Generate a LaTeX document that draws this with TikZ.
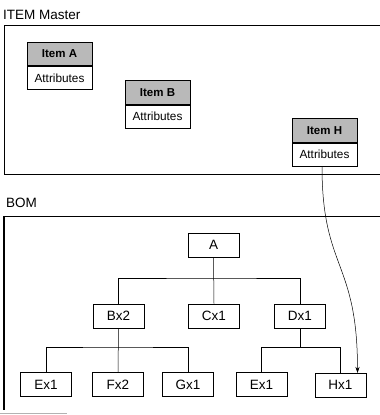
\documentclass[tikz,border=0pt]{standalone}
\usepackage{fontspec}
\setmainfont{Liberation Sans}
\usetikzlibrary{arrows.meta}
\tikzset{
  bomnode/.style={draw, line width=0.6pt, minimum width=51pt, minimum height=24pt, inner sep=0pt, font=\fontsize{13.5}{15}\selectfont},
  itemhead/.style={draw, line width=0.7pt, fill=gray!55, minimum width=65pt, minimum height=23.5pt, inner sep=0pt, font=\fontsize{11.5}{13}\selectfont\bfseries},
  itemattr/.style={draw, line width=0.7pt, fill=white, minimum width=65pt, minimum height=23pt, inner sep=0pt, font=\fontsize{11.8}{13}\selectfont},
  panel/.style={line width=0.9pt},
  tree/.style={line width=0.5pt},
  title/.style={font=\fontsize{13.5}{15}\selectfont, inner sep=0pt, anchor=west}
}
\begin{document}
\begin{tikzpicture}[x=1pt,y=-1pt]
\useasboundingbox (0,0) rectangle (380,415);
% panels
\node[title] (tIM) at (3,15) {ITEM Master};
\draw[panel] (380,25) -- (4,25) -- (4,174) -- (380,174);
\node[title] (tBOM) at (6,202.5) {BOM};
\draw[panel] (380,216) -- (4,216) -- (4,410);
\draw[line width=1.6pt] (4,216) -- (4,410);
\draw[gray!60, line width=0.8pt] (0,413) -- (67,413);
% item master boxes
\node[itemhead] (ha) at (59.5,54) {Item A};
\node[itemattr, anchor=north] (aa) at (ha.south) {Attributes};
\node[itemhead] (hb) at (157.5,92.5) {Item B};
\node[itemattr, anchor=north] (ab) at (hb.south) {Attributes};
\node[itemhead] (hh) at (324.5,130.5) {Item H};
\node[itemattr, anchor=north] (ah) at (hh.south) {Attributes};
% BOM tree
\node[bomnode] (A) at (213.5,245) {A};
\node[bomnode] (B) at (118.5,316) {Bx2};
\node[bomnode] (C) at (214,316) {Cx1};
\node[bomnode] (D) at (300,316) {Dx1};
\node[bomnode] (E1) at (46,384.5) {Ex1};
\node[bomnode] (F) at (118,384.5) {Fx2};
\node[bomnode] (G) at (188,384.5) {Gx1};
\node[bomnode] (E2) at (261.5,384.5) {Ex1};
\node[bomnode] (H) at (340.5,385) {Hx1};
\coordinate (barA) at (213.5,278);
\coordinate (barB) at (118.5,347);
\coordinate (barD) at (300,347.5);
\draw[tree] (A.south) -- (C.north);
\draw[tree] (B.north) |- (barA) -| (D.north);
\draw[tree] (B.south) -- (F.north);
\draw[tree] (E1.north) |- (barB) -| (G.north);
\draw[tree] (D.south) -- (barD);
\draw[tree] (E2.north) |- (barD) -| (H.north);
% link
\coordinate (hend) at (357.5,373);
\draw[line width=0.5pt, -{Stealth[length=6pt,width=4pt]}] (ah.south -| 322,0) .. controls (322,270) and (357.5,260) .. (hend);
\end{tikzpicture}
\end{document}
